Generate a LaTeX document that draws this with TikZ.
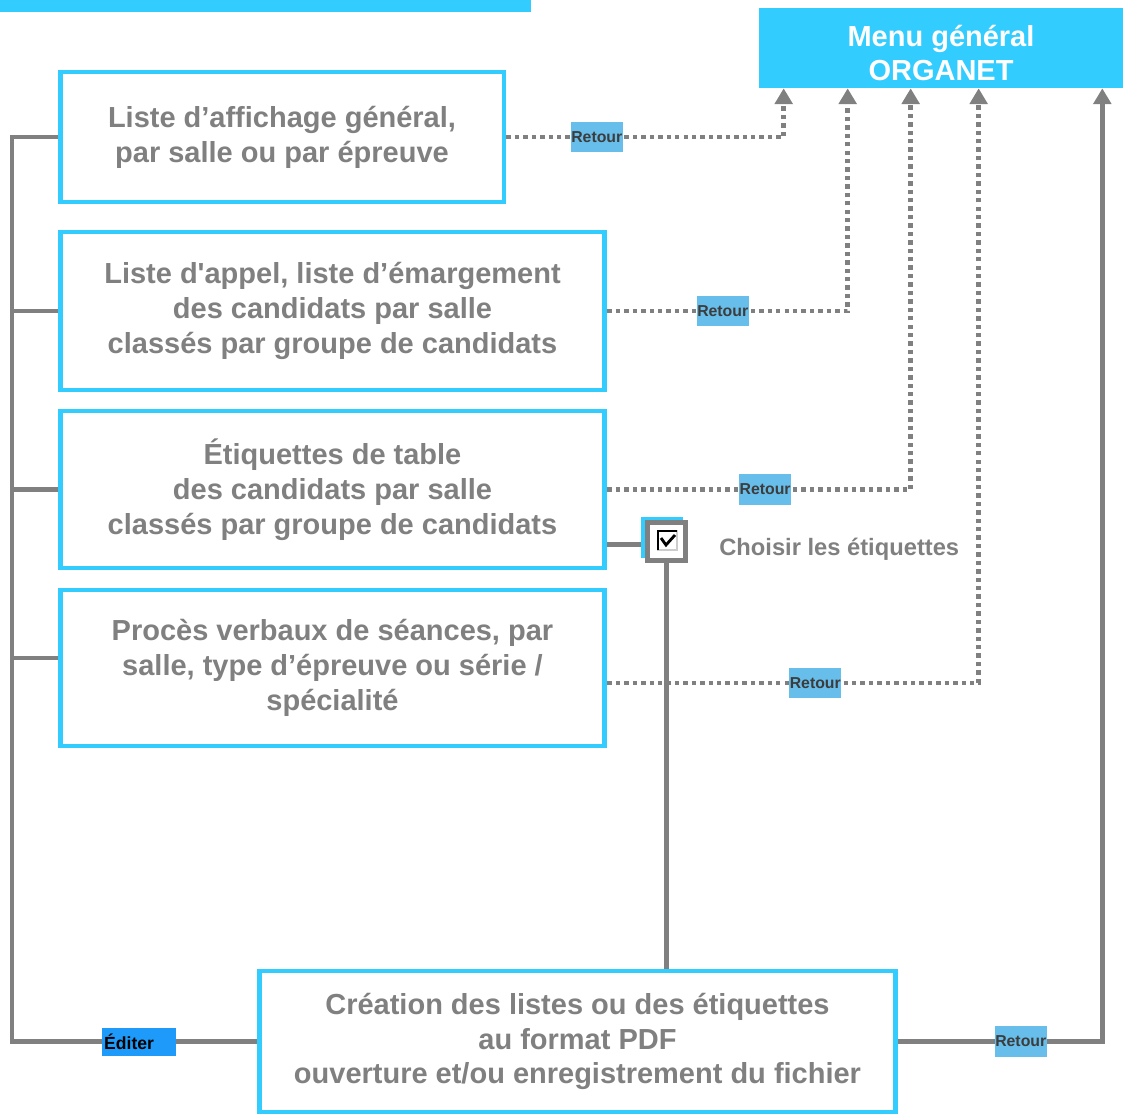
\documentclass[tikz,border=0pt]{standalone}
\usepackage{fontspec}
\setmainfont{Liberation Sans}
\usetikzlibrary{arrows.meta, positioning, calc}
\definecolor{cyanbord}{RGB}{51,204,255}
\definecolor{retourbleu}{RGB}{104,190,234}
\definecolor{editerbleu}{RGB}{30,155,250}
\definecolor{gristrait}{RGB}{128,128,128}
\definecolor{gristexte}{RGB}{60,60,60}

\begin{document}
\begin{tikzpicture}[x=0.02cm, y=-0.02cm,
    block/.style={rectangle, draw=cyanbord, line width=2.8pt, fill=white, text=gristrait, font=\fontsize{16.5}{19.8}\selectfont\bfseries, align=center, inner sep=0pt},
    menubox/.style={rectangle, fill=cyanbord, minimum width=7.28cm, minimum height=1.6cm, inner sep=0pt},
    menutexte/.style={text=white, font=\fontsize{16.5}{19.3}\selectfont\bfseries, align=center, inner sep=0pt},
    line/.style={draw=gristrait, line width=2.5pt},
    retourline/.style={line, dash pattern=on 2.5pt off 2.3pt, -{Triangle[width=10pt,length=9pt]}},
    retour/.style={rectangle, fill=retourbleu, text=gristexte, font=\fontsize{9}{9}\selectfont\bfseries, minimum width=1.04cm, minimum height=0.62cm, inner sep=0pt},
    editer/.style={rectangle, fill=editerbleu, text=black, font=\fontsize{10}{10}\selectfont\bfseries, text width=1.4cm, align=left, inner xsep=0.04cm, minimum height=0.56cm},
    checkbox/.style={rectangle, draw=gristrait, line width=2.8pt, fill=white, minimum size=0.76cm, inner sep=0pt},
    fond/.style={rectangle, fill=cyanbord, minimum size=0.84cm, inner sep=0pt}
]
    \useasboundingbox (0,0) rectangle (1123,1115);

    % Bandeau et menu
    \node [rectangle, fill=cyanbord, minimum width=10.62cm, minimum height=0.24cm, inner sep=0pt] (bandeau) at (265.5,6) {};
    \node [menubox] (menu) at (941,48) {};
    \node [menutexte, yshift=-0.1cm] (menutitre) at (menu) {Menu général\\ORGANET};

    % Listes
    \node [block, minimum width=8.88cm, minimum height=2.6cm] (affichage) at (282,137) {Liste d’affichage général,\\par salle ou par épreuve};
    \node [block, minimum width=10.9cm, minimum height=3.16cm] (appel) at (332.5,311) {Liste d\textquotesingle appel, liste d’émargement\\des candidats par salle\\classés par groupe de candidats};
    \node [block, minimum width=10.9cm, minimum height=3.14cm] (etiquettes) at (332.5,489.5) {Étiquettes de table\\des candidats par salle\\classés par groupe de candidats};
    \node [block, minimum width=10.9cm, minimum height=3.12cm] (proces) at (332.5,668) {Procès verbaux de séances, par\\salle, type d’épreuve ou série /\\spécialité};
    \node [block, minimum width=12.74cm, minimum height=2.82cm] (creation) at (577.5,1041.5) {Création des listes ou des étiquettes\\au format PDF\\ouverture et/ou enregistrement du fichier};

    % Case a cocher
    \node [fond] (choixfond) at (662,537.5) {};
    \node [checkbox] (choix) at (666.5,541.5) {};
    \draw [gray!40, line width=0.6pt] (658,531) rectangle (677,550);
    \draw [black, line width=0.9pt] (658,550) -- (658,531) -- (677,531);
    \draw [black, line width=1.6pt] (661,538) -- (666,545) -- (675,535);
    \node [right=0.62cm of choix, yshift=-0.15cm, inner sep=0pt, text=gristrait, font=\fontsize{13.5}{13.5}\selectfont\bfseries] (choisir) {Choisir les étiquettes};

    % Bus de gauche
    \coordinate (bus) at (12,137);
    \path [line] (affichage.west) -- (bus) |- node [editer, pos=0.76] {Éditer} (creation.west);
    \path [line] (appel.west) -- (appel.west -| bus);
    \path [line] (etiquettes.west) -- (etiquettes.west -| bus);
    \path [line] ([yshift=0.2cm]proces.west) -- ([yshift=0.2cm]proces.west -| bus);

    % Etiquettes -> creation
    \coordinate (verschoix) at ([yshift=-1.1cm]etiquettes.east);
    \path [line] (verschoix) -- (verschoix -| choixfond.west);
    \path [line] (choix.south) -- (choix.south |- creation.north);

    % Retours
    \path [retourline] (affichage.east) -| node [retour, pos=0.163] {Retour} ([xshift=0.5cm]menu.south west);
    \path [retourline] (appel.east) -| node [retour, pos=0.24] {Retour} ([xshift=1.78cm]menu.south west);
    \path [retourline] (etiquettes.east) -| node [retour, pos=0.26] {Retour} ([xshift=3.04cm]menu.south west);
    \path [retourline] ([yshift=-0.3cm]proces.east) -| node [retour, pos=0.28] {Retour} ([xshift=4.4cm]menu.south west);
    \path [line, -{Triangle[width=10pt,length=9pt]}] (creation.east) -| node [retour, pos=0.3] {Retour} ([xshift=-0.42cm]menu.south east);

\end{tikzpicture}
\end{document}
